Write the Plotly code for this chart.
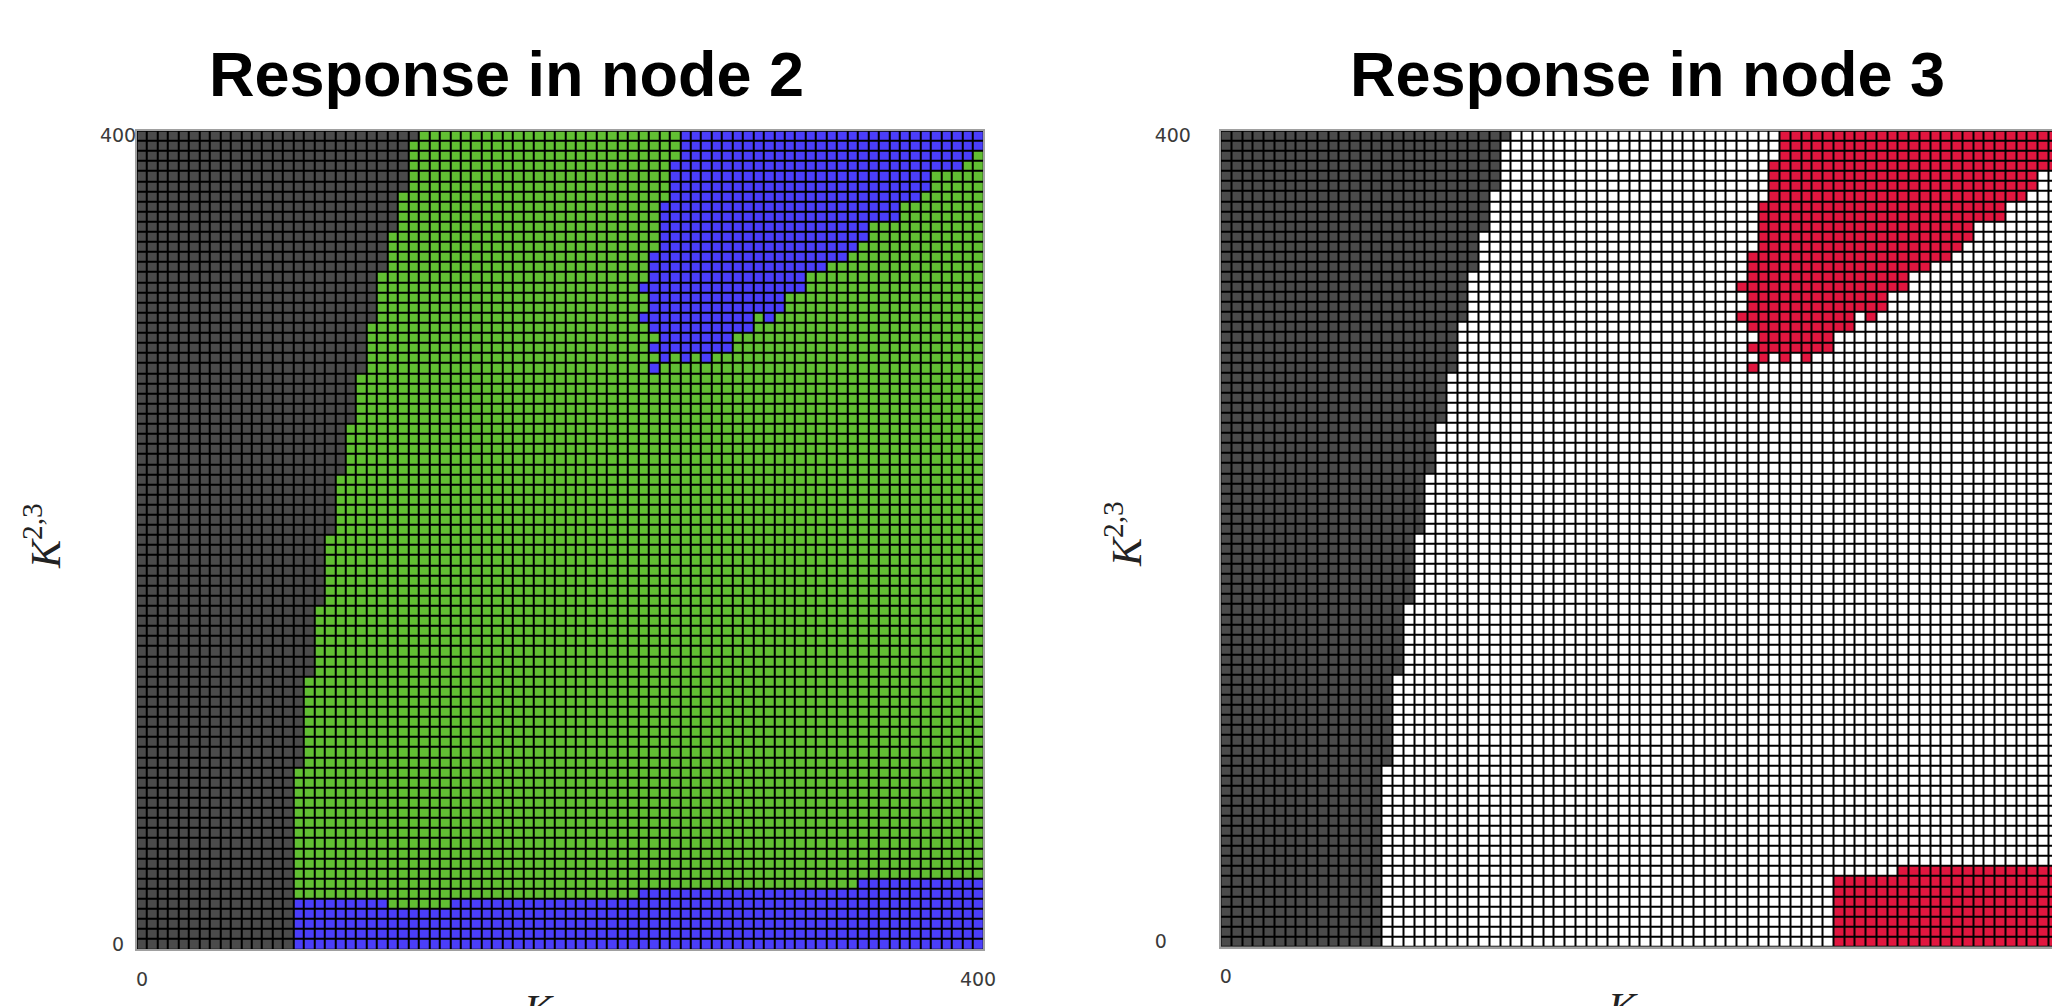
import plotly.graph_objects as go

# the page body adds an 8px margin, so the figure is sized to fill the window exactly
PAGE_OFFSET = 8
WIN_W, WIN_H = 2060, 1006
FIG_W, FIG_H = WIN_W - PAGE_OFFSET, WIN_H - PAGE_OFFSET

# parameter grid: 81 samples from 0 to 400 on both axes
K_VALUES = list(range(0, 401, 5))
TICK_VALUES = [0, 400]
LEFT_TICK_TEXT = ["0\u2007", "400"]          # labels centred on each other
RIGHT_TICK_TEXT = ["0\u2007\u2007", "400"]   # labels left-aligned
X_TICK_TEXT = ["0", "400"]

# number of dark-grey (no response) cells at the left of each row, listed from the top row (K=400) down
GREY_WIDTH_FROM_TOP = [
    27,
    26, 26, 26, 26, 26,
    25, 25, 25, 25,
    24, 24, 24, 24,
    23, 23, 23, 23, 23,
    22, 22, 22, 22, 22,
    21, 21, 21, 21, 21,
    20, 20, 20, 20, 20,
    19, 19, 19, 19, 19, 19,
    18, 18, 18, 18, 18, 18, 18,
    17, 17, 17, 17, 17, 17, 17,
    16, 16, 16, 16, 16, 16, 16, 16, 16,
    15, 15, 15, 15, 15, 15, 15, 15, 15, 15, 15, 15, 15, 15, 15, 15, 15, 15,
]

# upper-right patch (blue in node 2, red in node 3): column intervals [start, end) per row, from the top row down
UPPER_PATCH_FROM_TOP = [
    [(52, 81)],
    [(52, 81)],
    [(52, 80)],
    [(51, 79)],
    [(51, 76)],
    [(51, 76)],
    [(51, 75)],
    [(50, 73)],
    [(50, 73)],
    [(50, 70)],
    [(50, 70)],
    [(50, 69)],
    [(49, 68)],
    [(49, 66)],
    [(49, 64)],
    [(48, 64)],
    [(49, 62)],
    [(49, 62)],
    [(48, 59), (60, 61)],
    [(49, 59)],
    [(50, 57)],
    [(49, 57)],
    [(50, 51), (52, 53), (54, 55)],
    [(49, 50)],
]

# lower patch of node 2 (blue band): column intervals per row, from the bottom row (K=0) up
NODE2_LOWER_FROM_BOTTOM = [
    [(15, 81)],
    [(15, 81)],
    [(15, 81)],
    [(15, 81)],
    [(15, 24), (30, 81)],
    [(48, 81)],
    [(69, 81)],
]

# lower patch of node 3 (red block): column intervals per row, from the bottom row up
NODE3_LOWER_FROM_BOTTOM = [
    [(57, 81)],
    [(57, 81)],
    [(57, 81)],
    [(57, 81)],
    [(57, 81)],
    [(57, 81)],
    [(57, 81)],
    [(63, 81)],
]

NODE2_COLORS = ["#4b4b4b", "#62bf33", "#4b3efb"]
NODE3_COLORS = ["#4b4b4b", "#ffffff", "#e1163f"]


def build_grid(lower_patch):
    n = len(K_VALUES)
    z = [[1] * n for _ in range(n)]
    for r, width in enumerate(GREY_WIDTH_FROM_TOP):
        row = z[n - 1 - r]
        for j in range(width):
            row[j] = 0
    for r, segs in enumerate(UPPER_PATCH_FROM_TOP):
        row = z[n - 1 - r]
        for a, b in segs:
            for j in range(a, b):
                row[j] = 2
    for r, segs in enumerate(lower_patch):
        row = z[r]
        for a, b in segs:
            for j in range(a, b):
                row[j] = 2
    return z


def discrete_scale(colors):
    k = len(colors)
    scale = []
    for i, c in enumerate(colors):
        scale.append([i / k, c])
        scale.append([(i + 1) / k, c])
    return scale


def px_x(p):
    """window pixel -> paper fraction"""
    return (p - PAGE_OFFSET) / FIG_W


def px_y(p):
    return 1 - (p - PAGE_OFFSET) / FIG_H


fig = go.Figure()

fig.add_trace(go.Heatmap(
    x=K_VALUES, y=K_VALUES, z=build_grid(NODE2_LOWER_FROM_BOTTOM),
    zmin=-0.5, zmax=2.5, colorscale=discrete_scale(NODE2_COLORS),
    showscale=False, xgap=2, ygap=2, xaxis="x", yaxis="y", hoverinfo="skip",
))
fig.add_trace(go.Heatmap(
    x=K_VALUES, y=K_VALUES, z=build_grid(NODE3_LOWER_FROM_BOTTOM),
    zmin=-0.5, zmax=2.5, colorscale=discrete_scale(NODE3_COLORS),
    showscale=False, xgap=2, ygap=2, xaxis="x2", yaxis="y2", hoverinfo="skip",
))

# pixel geometry of the two panels (window coordinates)
L_X0, L_X1, L_Y0, L_Y1 = 136.7, 983.3, 130.7, 949.3
R_X0, R_X1, R_Y0, R_Y1 = 1220.5, 2060.0, 130.7, 946.7
R_CELL_W = 10.75
r_visible_cells = (R_X1 - R_X0) / R_CELL_W

tickfont = dict(family="DejaVu Sans", size=19, color="#3a3a3a")
common = dict(showgrid=False, zeroline=False, ticks="", showline=True,
              linecolor="#a0a0a0", linewidth=1.5, mirror=True,
              tickvals=TICK_VALUES, tickfont=tickfont,
              fixedrange=True, automargin=False)

fig.update_layout(
    width=FIG_W, height=FIG_H,
    margin=dict(l=0, r=0, t=0, b=0, pad=0),
    paper_bgcolor="white", plot_bgcolor="black",
    showlegend=False,
    xaxis=dict(domain=[px_x(L_X0), px_x(L_X1)], range=[-2.5, 402.5], anchor="y",
               ticktext=X_TICK_TEXT, ticklabelstandoff=12, **common),
    yaxis=dict(domain=[px_y(L_Y1), px_y(L_Y0)], range=[-2.5, 402.5], anchor="x",
               ticktext=LEFT_TICK_TEXT, ticklabelstandoff=-5, **common),
    xaxis2=dict(domain=[px_x(R_X0), px_x(R_X1)], range=[-2.5, -2.5 + 5 * r_visible_cells], anchor="y2",
                ticktext=X_TICK_TEXT, ticklabelstandoff=12, **common),
    yaxis2=dict(domain=[px_y(R_Y1), px_y(R_Y0)], range=[-2.5, 402.5], anchor="x2",
                ticktext=RIGHT_TICK_TEXT, ticklabelstandoff=24, **common),
)

title_font = dict(family="Liberation Sans", size=63, color="black")
math_font = dict(family="Liberation Serif", size=42, color="#222222")

annotations = [
    dict(text="<b>Response in node 2</b>", x=px_x(506), y=px_y(74), font=title_font),
    dict(text="<b>Response in node 3</b>", x=px_x(1647), y=px_y(74), font=title_font),
    dict(text="<i>K</i><sup>2,3</sup>", x=px_x(42), y=px_y(536), textangle=-90, font=math_font),
    dict(text="<i>K</i><sup>2,3</sup>", x=px_x(1123), y=px_y(534), textangle=-90, font=math_font),
    dict(text="<i>K</i><sub>2,3</sub>", x=px_x(556), y=px_y(1013), font=math_font),
    dict(text="<i>K</i><sub>2,3</sub>", x=px_x(1640), y=px_y(1011), font=math_font),
]
for a in annotations:
    a.update(xref="paper", yref="paper", xanchor="center", yanchor="middle", showarrow=False)
fig.update_layout(annotations=annotations)

fig.write_html("out.html")
